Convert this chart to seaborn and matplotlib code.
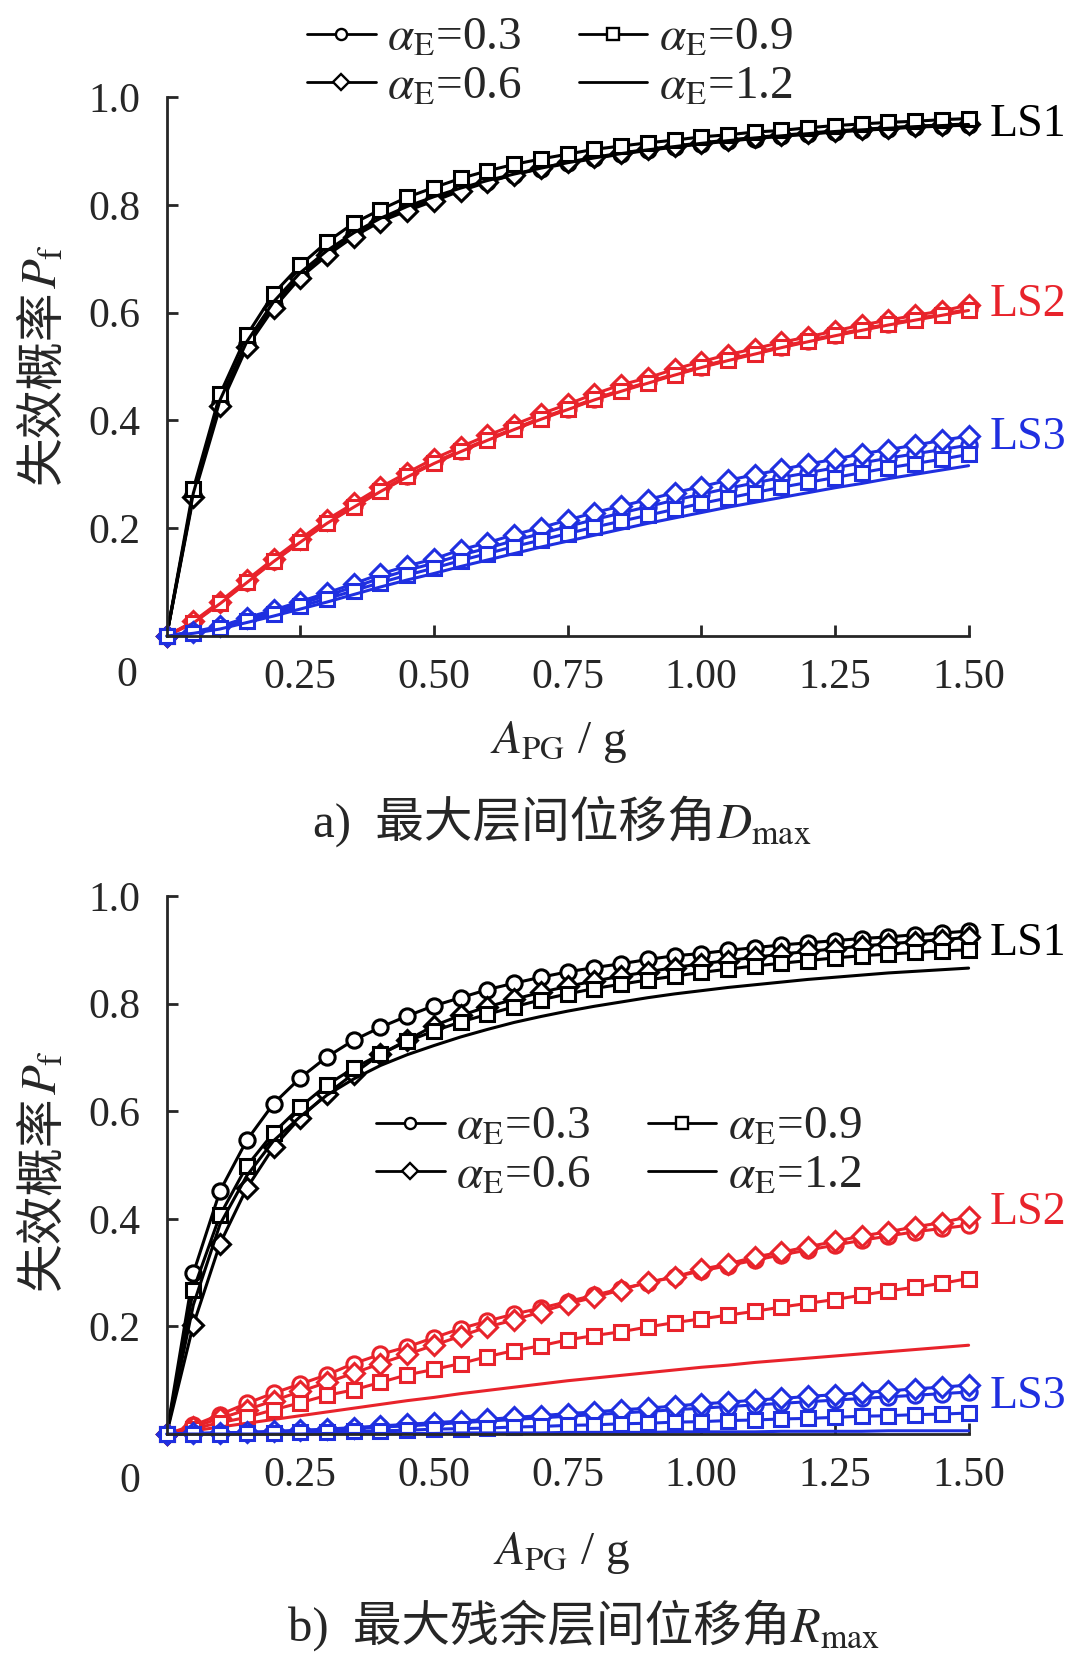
import numpy as np
import pandas as pd
import seaborn as sns
import matplotlib.pyplot as plt
from matplotlib.lines import Line2D

# ground acceleration A_PG / g
apg = [0, 0.05, 0.10, 0.15, 0.20, 0.25, 0.30, 0.35, 0.40, 0.45, 0.50,
       0.55, 0.60, 0.65, 0.70, 0.75, 0.80, 0.85, 0.90, 0.95, 1.00,
       1.05, 1.10, 1.15, 1.20, 1.25, 1.30, 1.35, 1.40, 1.45, 1.50]
alphas = ['0.3', '0.6', '0.9', '1.2']
limit_states = ['LS1', 'LS2', 'LS3']

# a) max inter-storey drift D_max
a_ls1_03 = [0, 0.262, 0.432, 0.541, 0.614, 0.670, 0.711, 0.745, 0.772, 0.793, 0.811, 0.828, 0.843, 0.856, 0.867, 0.877,
            0.886, 0.894, 0.901, 0.907, 0.913, 0.918, 0.923, 0.927, 0.931, 0.935, 0.938, 0.941, 0.944, 0.946, 0.948]
a_ls1_06 = [0, 0.257, 0.426, 0.536, 0.608, 0.665, 0.706, 0.741, 0.769, 0.789, 0.807, 0.826, 0.842, 0.856, 0.868, 0.879,
            0.888, 0.896, 0.903, 0.909, 0.915, 0.920, 0.925, 0.929, 0.933, 0.937, 0.940, 0.943, 0.946, 0.948, 0.950]
a_ls1_09 = [0, 0.273, 0.449, 0.558, 0.635, 0.688, 0.731, 0.766, 0.791, 0.814, 0.832, 0.849, 0.863, 0.875, 0.885, 0.894,
            0.903, 0.909, 0.915, 0.920, 0.926, 0.930, 0.935, 0.938, 0.943, 0.947, 0.950, 0.953, 0.955, 0.958, 0.960]
a_ls1_12 = [0, 0.265, 0.438, 0.546, 0.620, 0.674, 0.715, 0.748, 0.775, 0.797, 0.815, 0.831, 0.845, 0.857, 0.868, 0.878,
            0.887, 0.895, 0.902, 0.908, 0.914, 0.919, 0.924, 0.928, 0.932, 0.936, 0.939, 0.942, 0.945, 0.947, 0.949]

a_ls2_03 = [0, 0.026, 0.062, 0.101, 0.140, 0.176, 0.211, 0.241, 0.270, 0.297, 0.322, 0.344, 0.365, 0.385, 0.404, 0.422,
            0.440, 0.456, 0.471, 0.486, 0.500, 0.513, 0.525, 0.537, 0.548, 0.559, 0.569, 0.579, 0.588, 0.597, 0.606]
a_ls2_06 = [0, 0.027, 0.064, 0.104, 0.143, 0.180, 0.216, 0.246, 0.276, 0.303, 0.329, 0.351, 0.372, 0.392, 0.412, 0.430,
            0.449, 0.466, 0.479, 0.495, 0.509, 0.522, 0.533, 0.545, 0.555, 0.566, 0.577, 0.586, 0.595, 0.603, 0.614]
a_ls2_09 = [0, 0.025, 0.061, 0.100, 0.139, 0.175, 0.210, 0.240, 0.269, 0.296, 0.321, 0.343, 0.364, 0.384, 0.403, 0.421,
            0.439, 0.455, 0.470, 0.485, 0.499, 0.512, 0.524, 0.536, 0.547, 0.558, 0.568, 0.578, 0.587, 0.596, 0.605]
a_ls2_12 = [0, 0.024, 0.060, 0.099, 0.138, 0.174, 0.209, 0.239, 0.268, 0.295, 0.320, 0.342, 0.363, 0.383, 0.402, 0.420,
            0.438, 0.454, 0.469, 0.484, 0.498, 0.511, 0.523, 0.535, 0.546, 0.557, 0.567, 0.577, 0.586, 0.595, 0.604]

a_ls3_03 = [0, 0.007, 0.017, 0.031, 0.045, 0.060, 0.075, 0.091, 0.107, 0.122, 0.135, 0.150, 0.163, 0.177, 0.190, 0.203,
            0.216, 0.228, 0.240, 0.252, 0.263, 0.274, 0.284, 0.294, 0.303, 0.312, 0.321, 0.330, 0.338, 0.346, 0.354]
a_ls3_06 = [0, 0.008, 0.018, 0.034, 0.048, 0.064, 0.080, 0.097, 0.115, 0.130, 0.143, 0.160, 0.173, 0.188, 0.201, 0.215,
            0.229, 0.241, 0.253, 0.266, 0.277, 0.289, 0.299, 0.309, 0.319, 0.328, 0.338, 0.346, 0.354, 0.363, 0.371]
a_ls3_09 = [0, 0.006, 0.015, 0.028, 0.041, 0.055, 0.069, 0.084, 0.099, 0.113, 0.126, 0.140, 0.153, 0.166, 0.178, 0.190,
            0.202, 0.213, 0.224, 0.235, 0.246, 0.256, 0.266, 0.276, 0.285, 0.294, 0.303, 0.312, 0.320, 0.328, 0.337]
a_ls3_12 = [0, 0.005, 0.013, 0.025, 0.037, 0.050, 0.063, 0.077, 0.091, 0.104, 0.116, 0.129, 0.141, 0.153, 0.165, 0.176,
            0.187, 0.198, 0.209, 0.219, 0.229, 0.239, 0.248, 0.257, 0.266, 0.275, 0.283, 0.292, 0.300, 0.308, 0.316]

# b) max residual inter-storey drift R_max
b_ls1_03 = [0, 0.299, 0.452, 0.546, 0.614, 0.662, 0.701, 0.732, 0.756, 0.777, 0.796, 0.811, 0.826, 0.838, 0.849, 0.859,
            0.867, 0.874, 0.882, 0.889, 0.893, 0.899, 0.904, 0.909, 0.913, 0.917, 0.921, 0.924, 0.928, 0.931, 0.935]
b_ls1_06 = [0, 0.203, 0.354, 0.457, 0.533, 0.588, 0.632, 0.670, 0.706, 0.732, 0.759, 0.778, 0.794, 0.808, 0.821, 0.832,
            0.842, 0.851, 0.859, 0.867, 0.874, 0.880, 0.886, 0.892, 0.897, 0.902, 0.907, 0.911, 0.915, 0.919, 0.923]
b_ls1_09 = [0, 0.268, 0.407, 0.498, 0.560, 0.608, 0.649, 0.680, 0.706, 0.730, 0.749, 0.766, 0.780, 0.794, 0.807, 0.818,
            0.828, 0.836, 0.844, 0.851, 0.858, 0.864, 0.870, 0.875, 0.880, 0.885, 0.889, 0.892, 0.895, 0.898, 0.900]
b_ls1_12 = [0, 0.240, 0.390, 0.480, 0.545, 0.590, 0.630, 0.660, 0.685, 0.705, 0.722, 0.738, 0.752, 0.765, 0.776, 0.786,
            0.795, 0.803, 0.811, 0.818, 0.824, 0.830, 0.835, 0.840, 0.845, 0.849, 0.853, 0.857, 0.860, 0.863, 0.866]

b_ls2_03 = [0, 0.016, 0.036, 0.057, 0.076, 0.093, 0.110, 0.131, 0.148, 0.162, 0.179, 0.196, 0.210, 0.223, 0.234, 0.246,
            0.258, 0.270, 0.281, 0.292, 0.303, 0.313, 0.323, 0.333, 0.342, 0.351, 0.360, 0.368, 0.376, 0.382, 0.388]
b_ls2_06 = [0, 0.013, 0.029, 0.045, 0.062, 0.079, 0.096, 0.113, 0.131, 0.148, 0.165, 0.182, 0.199, 0.212, 0.227, 0.242,
            0.254, 0.268, 0.282, 0.292, 0.306, 0.316, 0.329, 0.338, 0.348, 0.358, 0.368, 0.376, 0.385, 0.393, 0.404]
b_ls2_09 = [0, 0.010, 0.021, 0.031, 0.045, 0.058, 0.072, 0.082, 0.096, 0.110, 0.120, 0.131, 0.144, 0.155, 0.164, 0.175,
            0.183, 0.190, 0.199, 0.207, 0.214, 0.221, 0.228, 0.236, 0.243, 0.250, 0.258, 0.266, 0.273, 0.280, 0.289]
b_ls2_12 = [0, 0.006, 0.013, 0.020, 0.027, 0.034, 0.041, 0.048, 0.055, 0.062, 0.068, 0.075, 0.081, 0.087, 0.093, 0.099,
            0.104, 0.109, 0.114, 0.119, 0.124, 0.128, 0.133, 0.137, 0.141, 0.145, 0.149, 0.153, 0.157, 0.161, 0.165]

b_ls3_03 = [0, 0.001, 0.002, 0.003, 0.004, 0.006, 0.008, 0.010, 0.013, 0.015, 0.018, 0.021, 0.024, 0.027, 0.030, 0.033,
            0.036, 0.039, 0.042, 0.045, 0.048, 0.051, 0.054, 0.057, 0.060, 0.063, 0.066, 0.069, 0.072, 0.075, 0.078]
b_ls3_06 = [0, 0.001, 0.002, 0.003, 0.005, 0.007, 0.009, 0.012, 0.015, 0.018, 0.021, 0.024, 0.027, 0.031, 0.034, 0.038,
            0.041, 0.045, 0.048, 0.052, 0.056, 0.059, 0.063, 0.066, 0.070, 0.073, 0.077, 0.080, 0.084, 0.087, 0.091]
b_ls3_09 = [0, 0.000, 0.000, 0.001, 0.002, 0.003, 0.004, 0.005, 0.006, 0.007, 0.009, 0.010, 0.011, 0.013, 0.014, 0.016,
            0.017, 0.019, 0.020, 0.022, 0.023, 0.025, 0.026, 0.028, 0.029, 0.031, 0.033, 0.034, 0.036, 0.037, 0.039]
b_ls3_12 = [0, 0.000, 0.000, 0.000, 0.000, 0.000, 0.001, 0.001, 0.001, 0.001, 0.001, 0.002, 0.002, 0.002, 0.002, 0.003,
            0.003, 0.003, 0.003, 0.004, 0.004, 0.004, 0.004, 0.005, 0.005, 0.005, 0.005, 0.006, 0.006, 0.006, 0.006]

series = {
    ('a', 'LS1'): [a_ls1_03, a_ls1_06, a_ls1_09, a_ls1_12],
    ('a', 'LS2'): [a_ls2_03, a_ls2_06, a_ls2_09, a_ls2_12],
    ('a', 'LS3'): [a_ls3_03, a_ls3_06, a_ls3_09, a_ls3_12],
    ('b', 'LS1'): [b_ls1_03, b_ls1_06, b_ls1_09, b_ls1_12],
    ('b', 'LS2'): [b_ls2_03, b_ls2_06, b_ls2_09, b_ls2_12],
    ('b', 'LS3'): [b_ls3_03, b_ls3_06, b_ls3_09, b_ls3_12],
}

rows = []
for (panel, ls), vals in series.items():
    for alpha, v in zip(alphas, vals):
        for x, y in zip(apg, v):
            rows.append({'panel': panel, 'LS': ls, 'alpha': alpha, 'APG': x, 'Pf': y})
df = pd.DataFrame(rows)

ls_colors = {'LS1': '#000000', 'LS2': '#e8232b', 'LS3': '#1f2fe0'}
markers = {'0.3': 'o', '0.6': 'D', '0.9': 's', '1.2': None}
msize = {'0.3': 11, '0.6': 10, '0.9': 10.5, '1.2': 0}

sns.set_style('ticks')
plt.rcParams['font.family'] = ['Liberation Serif', 'Noto Sans CJK SC']
plt.rcParams['mathtext.fontset'] = 'stix'
plt.rcParams['axes.unicode_minus'] = False

W, H = 1080, 1664
fig = plt.figure(figsize=(W / 100, H / 100), dpi=100)
fs = 30        # tick labels
fs_big = 35    # axis titles / captions
fs_leg = 34

ax_a = fig.add_axes([166.6 / W, 1 - 636 / H, 802 / W, 539 / H])
ax_b = fig.add_axes([166.6 / W, 1 - 1434 / H, 802 / W, 538 / H])

layout = {
    'a': dict(ax=ax_a, zero=(127, 676), xlab=(559, 742), cap_y=837, cap_split=716, ylab_split=289,
              leg=(550, 63), ls_y={'LS1': 0.949, 'LS2': 0.614, 'LS3': 0.368},
              cap='a)  最大层间位移角', capm=r'$D_{\mathrm{max}}$'),
    'b': dict(ax=ax_b, zero=(130, 1482), xlab=(562, 1553), cap_y=1641, cap_split=790, ylab_split=1095,
              leg=(619, 1152), ls_y={'LS1': 0.911, 'LS2': 0.411, 'LS3': 0.07},
              cap='b)  最大残余层间位移角', capm=r'$R_{\mathrm{max}}$'),
}

for panel, lay in layout.items():
    ax = lay['ax']
    for ls in limit_states:
        for alpha in alphas:
            sub = df[(df.panel == panel) & (df.LS == ls) & (df.alpha == alpha)]
            c = ls_colors[ls]
            sns.lineplot(data=sub, x='APG', y='Pf', ax=ax, color=c, errorbar=None,
                         linewidth=2.2, marker=markers[alpha], markersize=msize[alpha],
                         markerfacecolor='white', markeredgecolor=c, markeredgewidth=2.2,
                         clip_on=False, legend=False)
        ax.text(1.54, lay['ls_y'][ls], ls, color=ls_colors[ls], fontsize=33, va='center', ha='left')

    ax.set_xlim(0, 1.5)
    ax.set_ylim(0, 1.0)
    ax.set_xticks([0.25, 0.5, 0.75, 1.0, 1.25, 1.5])
    ax.set_xticklabels(['0.25', '0.50', '0.75', '1.00', '1.25', '1.50'])
    ax.set_yticks([0.2, 0.4, 0.6, 0.8, 1.0])
    ax.set_yticklabels(['0.2', '0.4', '0.6', '0.8', '1.0'])
    ax.set_xlabel('')
    ax.set_ylabel('')
    sns.despine(ax=ax)
    for s in ['left', 'bottom']:
        ax.spines[s].set_linewidth(2.0)
    ax.tick_params(direction='in', length=8, width=2.0, labelsize=fs)
    ax.tick_params(axis='x', pad=16)
    ax.tick_params(axis='y', pad=19)

    zx, zy = lay['zero']
    fig.text(zx / W, 1 - zy / H, '0', fontsize=fs, ha='center', va='center')
    lx, ly = lay['xlab']
    fig.text(lx / W, 1 - ly / H, r'$A_{\mathrm{PG}}$ / g', fontsize=fs_leg, ha='center', va='center')
    fig.text(lay['cap_split'] / W, 1 - lay['cap_y'] / H, lay['cap'], fontsize=fs_big, ha='right', va='baseline')
    fig.text(lay['cap_split'] / W, 1 - lay['cap_y'] / H, lay['capm'], fontsize=fs_big, ha='left', va='baseline')
    fig.text(56 / W, 1 - lay['ylab_split'] / H, '失效概率', fontsize=fs_big, rotation=90,
             rotation_mode='anchor', ha='right', va='baseline')
    fig.text(56 / W, 1 - lay['ylab_split'] / H, r'$P_{\mathrm{f}}$', fontsize=fs_big, rotation=90,
             rotation_mode='anchor', ha='left', va='baseline')

    handles = []
    for alpha in alphas:
        handles.append(Line2D([], [], color='black', linewidth=2.0, marker=markers[alpha],
                              markersize=8, markerfacecolor='white', markeredgecolor='black',
                              markeredgewidth=1.7, label=r'$\alpha_{\mathrm{E}}$=' + alpha))
    gx, gy = lay['leg']
    ax.legend(handles=handles, ncol=2, loc='center', bbox_to_anchor=(gx / W, 1 - gy / H),
              bbox_transform=fig.transFigure, frameon=False, fontsize=fs_leg, handlelength=1.45,
              handletextpad=0.25, columnspacing=1.2, labelspacing=0.12, borderpad=0)

fig.savefig('out.png', dpi=100)
